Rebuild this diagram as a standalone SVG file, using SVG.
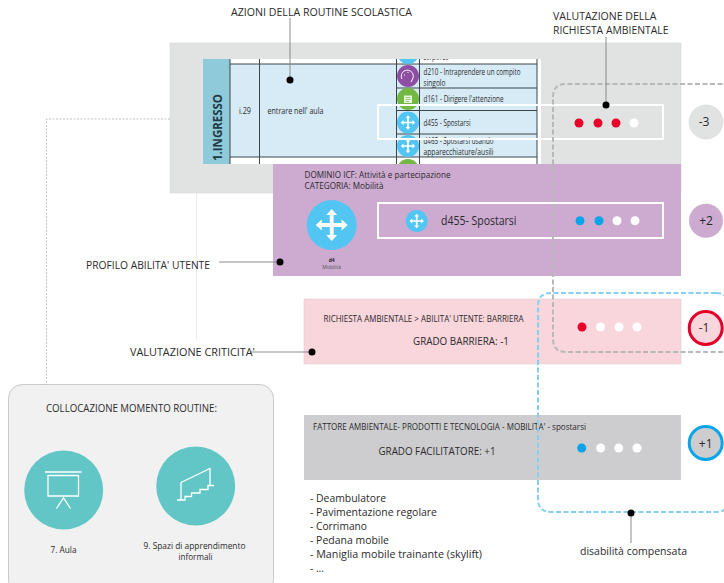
<svg xmlns="http://www.w3.org/2000/svg" width="724" height="583" viewBox="0 0 724 583">
<style>
text{font-family:"Open Sans","Noto Sans","Liberation Sans",sans-serif;fill:#2b2a2b}
.l{font-size:11px}
.g{font-size:11.5px}
.s{font-size:8.5px}
.c{font-size:8.5px}
.m{font-size:9px}
.grid{stroke:#3c4648;stroke-width:1;fill:none}
.lead{stroke:#8c8c8c;stroke-width:1;fill:none}
.white{fill:none;stroke:#fff;stroke-width:2}
.score{font-size:12px;text-anchor:middle}
.w{fill:#fff}.r{fill:#e8002b}.b{fill:#0aa5e8}
.arrow{fill:#fff}
.dash1{fill:none;stroke:#b8b8b8;stroke-width:2;stroke-dasharray:5 2.500}
.dash2{fill:none;stroke:#84d0f0;stroke-width:2;stroke-dasharray:5 2.500}
.teal{fill:#62c6c6}
.ic{fill:none;stroke:#fff;stroke-width:1.3}
</style>
<defs>
<path id="mv" d="M0-10 3.4-6.2H1.2V-1.2H6.2V-3.4L10 0 6.2 3.4V1.2H1.2V6.2H3.4L0 10-3.4 6.2H-1.2V1.2H-6.2V3.4L-10 0-6.2-3.4V-1.2H-1.2V-6.2H-3.4Z"/>
<clipPath id="tc"><rect x="203" y="59" width="338" height="105"/></clipPath>
</defs>

<g id="panel-routine">
<rect x="170" y="43" width="511" height="150" fill="#e1e2e2" stroke="#d2d2d2" stroke-width="0.5"/>
<g clip-path="url(#tc)">
<rect x="203" y="59" width="338" height="110" fill="#fff"/>
<rect x="203" y="59" width="27" height="110" fill="#8ecad9"/>
<rect x="230" y="64" width="307" height="93" fill="#d6ebf5"/>
<path class="grid" d="M230 59V169M259.500 59V169M396.500 59V169M419.500 59V169M537 59V169M230 64H537M230 157H537M396.500 88H537M396.500 110.500H537M396.500 134H537"/>
<circle cx="408" cy="53" r="11" fill="#52c5f3"/>
<circle cx="408" cy="76" r="11" fill="#8d4fa3"/>
<circle cx="408" cy="99" r="11" fill="#72b843"/>
<circle cx="408" cy="122.500" r="11" fill="#52c5f3"/>
<circle cx="408" cy="146" r="11" fill="#52c5f3"/>
<circle cx="408" cy="170" r="11" fill="#72b843"/>
<use href="#mv" transform="translate(408 122.500) scale(.72)" class="arrow"/>
<use href="#mv" transform="translate(408 146) scale(.72)" class="arrow"/>
<path d="M402 79A6 6 0 1 1 413 78L411 82M404 75H405M408 72V73" fill="none" stroke="#fff" stroke-width="1"/>
<rect x="404" y="95.500" width="8" height="7.500" fill="#fff" opacity=".85"/>
<path d="M405.500 97.500H410.500M405.500 99.500H410.500M405.500 101.500H409" stroke="#72b843" stroke-width=".7" fill="none"/>
<text class="s" x="423" y="60" textLength="26" lengthAdjust="spacingAndGlyphs">corporeo</text>
<text class="s" x="423.500" y="74.500" textLength="97" lengthAdjust="spacingAndGlyphs">d210 - Intraprendere un compito</text>
<text class="s" x="423.500" y="85.500" textLength="22" lengthAdjust="spacingAndGlyphs">singolo</text>
<text class="s" x="423.500" y="102" textLength="80" lengthAdjust="spacingAndGlyphs">d161 - Dirigere l'attenzione</text>
<text class="s" x="423.500" y="125.500" textLength="47" lengthAdjust="spacingAndGlyphs">d455 - Spostarsi</text>
<text class="s" x="423.500" y="144" textLength="70" lengthAdjust="spacingAndGlyphs">d465 - Spostarsi usando</text>
<text class="s" x="423.500" y="155" textLength="70" lengthAdjust="spacingAndGlyphs">apparecchiature/ausili</text>
<text class="s" x="239" y="114" textLength="12" lengthAdjust="spacingAndGlyphs">i.29</text>
<text class="s" x="267.500" y="114" textLength="56" lengthAdjust="spacingAndGlyphs">entrare nell' aula</text>
<text transform="translate(222 161) rotate(-90)" font-size="13" font-weight="700" textLength="67" lengthAdjust="spacingAndGlyphs" style="fill:#1f3a44">1.INGRESSO</text>
</g>
<rect class="white" x="378" y="105" width="285" height="34"/>
<circle class="r" cx="579" cy="123" r="4.500"/><circle class="r" cx="598" cy="123" r="4.500"/><circle class="r" cx="616" cy="123" r="4.500"/><circle class="w" cx="634" cy="123" r="4.500"/>
</g>

<g id="score-a">
<circle cx="706" cy="122" r="17" fill="#e1e2e2" stroke="#d2d2d2" stroke-width="0.5"/>
<text class="score" x="704" y="126">-3</text>
</g>

<g id="panel-profilo">
<rect x="273" y="164" width="408" height="112" fill="#cdabd1"/>
<text class="m" x="304.500" y="177.500" textLength="146" lengthAdjust="spacingAndGlyphs">DOMINIO ICF: Attività e partecipazione</text>
<text class="m" x="304.500" y="188.500" textLength="79" lengthAdjust="spacingAndGlyphs">CATEGORIA: Mobilità</text>
<circle cx="331.700" cy="225" r="25" fill="#52c5f3"/>
<use href="#mv" transform="translate(331.700 225) scale(1.6)" class="arrow"/>
<text x="331.700" y="261.500" font-size="5" font-weight="700" text-anchor="middle">d4</text>
<text x="331.700" y="268.500" font-size="5" text-anchor="middle" style="fill:#555">Mobilità</text>
<rect class="white" x="378" y="203" width="285" height="35"/>
<circle cx="416.700" cy="221" r="11" fill="#52c5f3"/>
<use href="#mv" transform="translate(416.700 221) scale(.72)" class="arrow"/>
<text x="441" y="225" font-size="12" textLength="75.500" lengthAdjust="spacingAndGlyphs">d455- Spostarsi</text>
<circle class="b" cx="580" cy="220.700" r="4.500"/><circle class="b" cx="599" cy="220.700" r="4.500"/><circle class="w" cx="617" cy="220.700" r="4.500"/><circle class="w" cx="635" cy="220.700" r="4.500"/>
</g>

<g id="score-b">
<circle cx="706" cy="220.700" r="17" fill="#cdabd1"/>
<text class="score" x="706" y="225">+2</text>
</g>

<g id="panel-barriera">
<rect x="304" y="299" width="377" height="65" fill="#f9d5dc" stroke="#d8c9cc" stroke-width="0.5"/>
<text class="c" x="323.500" y="322" textLength="200" lengthAdjust="spacingAndGlyphs">RICHIESTA AMBIENTALE &gt; ABILITA' UTENTE: BARRIERA</text>
<text class="g" x="413" y="345" textLength="96" lengthAdjust="spacingAndGlyphs">GRADO BARRIERA:  -1</text>
<circle class="r" cx="582" cy="327" r="4.500"/><circle class="w" cx="600.500" cy="327" r="4.500"/><circle class="w" cx="619" cy="327" r="4.500"/><circle class="w" cx="637" cy="327" r="4.500"/>
</g>

<g id="score-c">
<circle cx="705.700" cy="328" r="16.500" fill="#f9d5dc" stroke="#e2002a" stroke-width="3"/>
<text class="score" x="704" y="332">-1</text>
</g>

<g id="panel-facilitatore">
<rect x="304" y="415" width="377" height="65" fill="#cdcdcf"/>
<text class="c" x="313" y="430" textLength="273" lengthAdjust="spacingAndGlyphs">FATTORE AMBIENTALE- PRODOTTI E TECNOLOGIA -   MOBILITA' - spostarsi</text>
<text class="g" x="378.500" y="455" textLength="117" lengthAdjust="spacingAndGlyphs">GRADO FACILITATORE:  +1</text>
<circle class="b" cx="581.700" cy="448" r="4.500"/><circle class="w" cx="600.700" cy="448" r="4.500"/><circle class="w" cx="618.700" cy="448" r="4.500"/><circle class="w" cx="637" cy="448" r="4.500"/>
</g>

<g id="score-d">
<circle cx="705.700" cy="443" r="16.500" fill="#cdcdcf" stroke="#0aa5e8" stroke-width="3"/>
<text class="score" x="705.700" y="447.500" font-size="13">+1</text>
</g>

<g id="list">
<text class="l" x="310" y="502" textLength="76" lengthAdjust="spacingAndGlyphs">- Deambulatore</text>
<text class="l" x="310" y="516" textLength="127" lengthAdjust="spacingAndGlyphs">- Pavimentazione regolare</text>
<text class="l" x="310" y="530" textLength="57" lengthAdjust="spacingAndGlyphs">- Corrimano</text>
<text class="l" x="310" y="544" textLength="79" lengthAdjust="spacingAndGlyphs">- Pedana mobile</text>
<text class="l" x="310" y="558" textLength="172" lengthAdjust="spacingAndGlyphs">- Maniglia mobile trainante (skylift)</text>
<text class="l" x="310" y="572" textLength="14" lengthAdjust="spacingAndGlyphs">- ...</text>
</g>

<g id="panel-collocazione">
<rect x="8.500" y="384.500" width="265" height="210" rx="14" fill="#f1f1f1" stroke="#c9c9c9"/>
<text class="l" x="46" y="412" textLength="171" lengthAdjust="spacingAndGlyphs">COLLOCAZIONE MOMENTO ROUTINE:</text>
<circle class="teal" cx="63.700" cy="490" r="39.500"/>
<path class="ic" d="M45 472H81.500M48 475.500H78.500V496H48ZM56.500 508.500 63.500 498 70.500 508.500"/>
<text class="m" x="63.500" y="553" text-anchor="middle" textLength="26" lengthAdjust="spacingAndGlyphs">7. Aula</text>
<circle class="teal" cx="195.700" cy="486" r="39.500"/>
<path class="ic" d="M181 482.500V500M181 482.500 210 468.500V485.500M177 500H185V496.500H191.500V493H200V489.500H208V485.500H214"/>
<text class="m" x="194.500" y="549" text-anchor="middle" textLength="102" lengthAdjust="spacingAndGlyphs">9. Spazi di apprendimento</text>
<text class="m" x="195.500" y="560" text-anchor="middle" textLength="34" lengthAdjust="spacingAndGlyphs">informali</text>
</g>

<g id="connectors">
<path d="M196.500 193V340" fill="none" stroke="#ececec" stroke-width="1"/>
<path d="M170 119H46.500V385" fill="none" stroke="#c4c4c4" stroke-width="1" stroke-dasharray="2 1.500"/>
<path class="dash1" d="M730 84H566Q553 84 553 97V339Q553 352 566 352H730"/>
<path class="dash2" d="M716 293H551Q538 293 538 306V499Q538 512 551 512H716Q724 512 727 507M716 293Q724 293 727 298"/>
<path class="lead" d="M290 18V80M606 37V105M219 262H280M250 352H312M631 513V543"/>
<circle cx="290" cy="80" r="3.500"/>
<circle cx="606" cy="105" r="3.500"/>
<circle cx="280" cy="262" r="3.500"/>
<circle cx="312" cy="352" r="3.500"/>
<circle cx="631" cy="513" r="3.500"/>
</g>

<g id="labels">
<text class="l" x="231" y="16" textLength="181" lengthAdjust="spacingAndGlyphs">AZIONI DELLA ROUTINE SCOLASTICA</text>
<text class="l" x="553" y="20" textLength="103.500" lengthAdjust="spacingAndGlyphs">VALUTAZIONE DELLA</text>
<text class="l" x="553" y="34" textLength="115.500" lengthAdjust="spacingAndGlyphs">RICHIESTA AMBIENTALE</text>
<text class="l" x="86" y="269" textLength="124" lengthAdjust="spacingAndGlyphs">PROFILO ABILITA' UTENTE</text>
<text class="l" x="130" y="356" textLength="125" lengthAdjust="spacingAndGlyphs">VALUTAZIONE CRITICITA'</text>
<text class="l" x="580" y="555" textLength="107" lengthAdjust="spacingAndGlyphs">disabilità compensata</text>
</g>
</svg>
